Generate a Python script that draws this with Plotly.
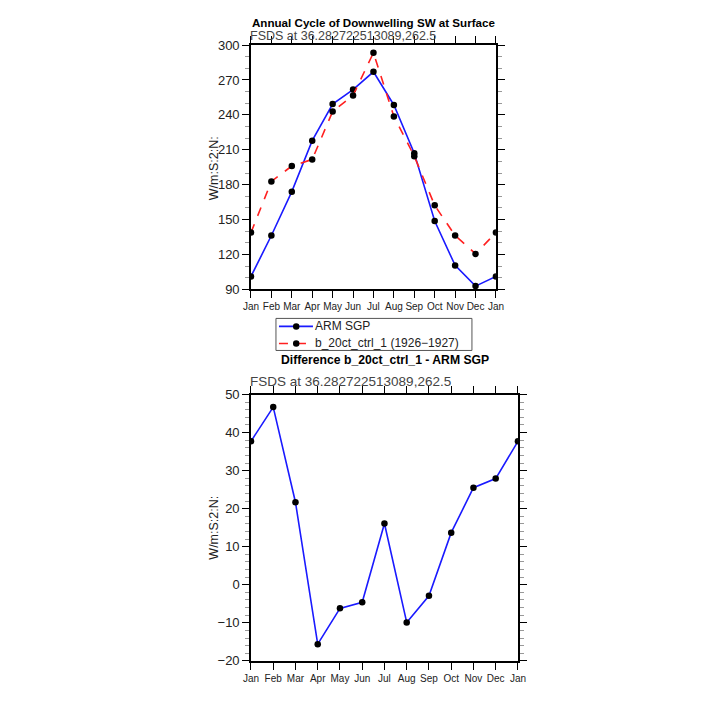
import plotly.graph_objects as go

# Month axis: 13 points, January repeated at the end
months = ["Jan", "Feb", "Mar", "Apr", "May", "Jun", "Jul",
          "Aug", "Sep", "Oct", "Nov", "Dec", "Jan"]
month_idx = list(range(13))

# Downwelling SW at surface (W/m2)
arm_sgp = [101.1, 136.3, 174.0, 217.8, 249.3, 261.7, 277.0,
           248.5, 207.0, 148.8, 110.6, 92.8, 101.1]
model = [138.8, 182.8, 196.0, 201.7, 242.9, 256.7, 293.4,
         238.6, 204.5, 162.2, 136.3, 120.5, 138.8]

# Difference model - obs
diff = [37.7, 46.7, 21.7, -15.6, -6.2, -4.6, 16.1,
        -9.9, -2.9, 13.7, 25.5, 27.9, 37.7]

top_yticks = [90, 120, 150, 180, 210, 240, 270, 300]
bot_yticks = [-20, -10, 0, 10, 20, 30, 40, 50]

series_names = ["ARM SGP", "b_20ct_ctrl_1 (1926\u22121927)"]
series_colors = ["#1a1aff", "#ff2020"]
series_dash = ["solid", "dash"]

# measured: the figure lands at 15px in the screenshot, scaled by 0.977
C = 15.0
K = 0.977
W = H = 692
FONT = "Liberation Sans"
INK = "#222222"


def px(x):
    """screenshot pixel -> paper x"""
    return ((x - C) / K) / W


def py(y):
    """screenshot pixel -> paper y"""
    return 1 - ((y - C) / K) / H


fig = go.Figure()

for name, vals, col, dash in zip(series_names, [arm_sgp, model],
                                 series_colors, series_dash):
    fig.add_trace(go.Scatter(
        x=month_idx, y=vals, mode="lines+markers", name=name,
        line=dict(color=col, width=1.6, dash=dash),
        marker=dict(color="black", size=6.5), xaxis="x", yaxis="y"))

fig.add_trace(go.Scatter(
    x=month_idx, y=diff, mode="lines+markers", name="diff",
    line=dict(color=series_colors[0], width=1.6),
    marker=dict(color="black", size=6.5), xaxis="x2", yaxis="y2"))


def xaxis_style(domain, anchor):
    return dict(
        domain=domain, anchor=anchor, range=[0, 12],
        tickmode="array", tickvals=month_idx, ticktext=months, tickangle=0,
        ticks="outside", ticklen=7, tickwidth=1.2, tickcolor="black",
        showline=True, linecolor="black", linewidth=1.5, mirror="allticks",
        showgrid=False, zeroline=False,
        tickfont=dict(family=FONT, size=10, color=INK))


def yaxis_style(domain, anchor, rng, tickvals, minor):
    return dict(
        domain=domain, anchor=anchor, range=rng,
        tickmode="array", tickvals=tickvals,
        ticks="outside", ticklen=7, tickwidth=1.2, tickcolor="black",
        minor=dict(ticks="outside", dtick=minor, tick0=rng[0], ticklen=4,
                   tickwidth=1, tickcolor="#999999"),
        showline=True, linecolor="black", linewidth=1.5, mirror="allticks",
        showgrid=False, zeroline=False,
        tickfont=dict(family=FONT, size=13, color=INK))


fig.update_layout(
    width=W, height=H,
    margin=dict(l=0, r=0, t=0, b=0),
    paper_bgcolor="white", plot_bgcolor="white",
    xaxis=xaxis_style([px(250), px(495)], "y"),
    yaxis=yaxis_style([py(289), py(45)], "x", [90, 300], top_yticks, 10),
    xaxis2=xaxis_style([px(250), px(517)], "y2"),
    yaxis2=yaxis_style([py(660), py(394)], "x2", [-20, 50], bot_yticks, 2),
    showlegend=False,
)

annotations = [
    # top title sits right at the figure's top edge
    dict(text="<b>Annual Cycle of Downwelling SW at Surface</b>",
         x=px(373), y=1, xanchor="center", yanchor="top",
         font=dict(family=FONT, size=11.6, color="black")),
    dict(text="FSDS at 36.282722513089,262.5",
         x=px(248), y=py(44), xanchor="left", yanchor="bottom",
         font=dict(family=FONT, size=12.5, color="#444444")),
    dict(text="W/m:S:2:N:", textangle=-90,
         x=px(213), y=py(168), xanchor="center", yanchor="middle",
         font=dict(family=FONT, size=12.5, color=INK)),
    dict(text="<b>Difference b_20ct_ctrl_1 - ARM SGP</b>",
         x=px(384), y=py(360), xanchor="center", yanchor="middle",
         font=dict(family=FONT, size=12.2, color="black")),
    dict(text="FSDS at 36.282722513089,262.5",
         x=px(248), y=py(389), xanchor="left", yanchor="bottom",
         font=dict(family=FONT, size=13.5, color="#444444")),
    dict(text="W/m:S:2:N:", textangle=-90,
         x=px(213), y=py(527), xanchor="center", yanchor="middle",
         font=dict(family=FONT, size=12.5, color=INK)),
]

# NCL-style legend box below the top panel (compact, drawn as shapes)
shapes = [dict(type="rect", x0=px(275), x1=px(471), y0=py(318), y1=py(350),
               line=dict(color="#555555", width=1), fillcolor="white")]
row_y = [326, 343]
for name, col, dash, ry in zip(series_names, series_colors, series_dash, row_y):
    shapes.append(dict(type="line", x0=px(278), x1=px(312), y0=py(ry), y1=py(ry),
                       line=dict(color=col, width=1.6, dash=dash)))
    shapes.append(dict(type="circle", x0=px(292), x1=px(298.5),
                       y0=py(ry + 3.25), y1=py(ry - 3.25),
                       line=dict(color="black", width=0), fillcolor="black"))
    annotations.append(dict(text=name, x=px(313), y=py(ry),
                            xanchor="left", yanchor="middle",
                            font=dict(family=FONT, size=12, color=INK)))

for a in annotations:
    a.update(xref="paper", yref="paper", showarrow=False, borderpad=0)
for s in shapes:
    s.update(xref="paper", yref="paper")
fig.update_layout(annotations=annotations, shapes=shapes)

fig.write_html("out.html")
